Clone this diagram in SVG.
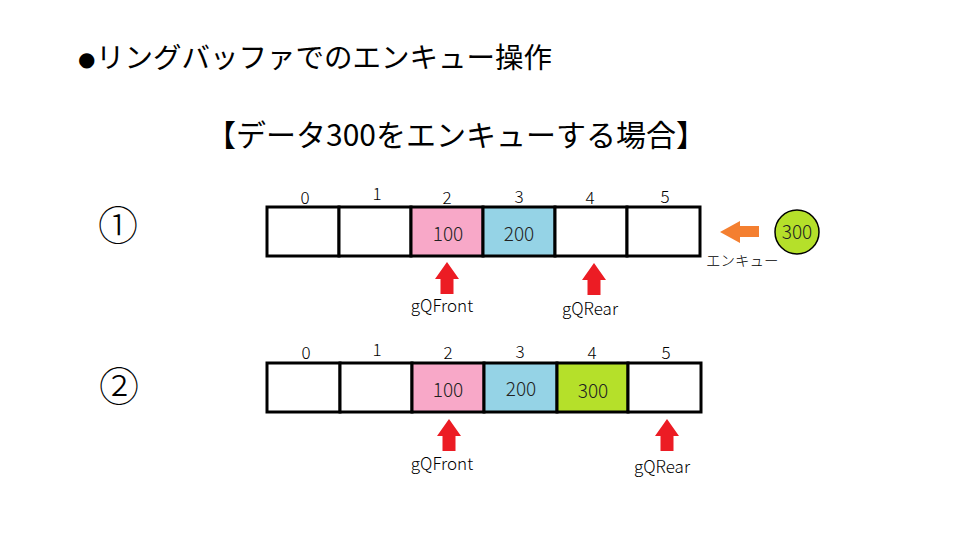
<svg xmlns="http://www.w3.org/2000/svg" width="960" height="540" viewBox="0 0 960 540">
<style>
text{font-family:"Noto Sans CJK JP","Noto Sans",sans-serif;fill:#000;}
.title{font-size:28.5px;}
.idx{font-size:17px;text-anchor:middle;font-weight:300;}
.val{font-size:19px;text-anchor:middle;fill:#222;font-weight:300;}
.lbl{font-size:17px;text-anchor:middle;font-weight:300;}
.cell{stroke:#000;stroke-width:3;}
.circ{font-size:40px;text-anchor:middle;font-weight:300;}
.up{fill:#ec1c24;}
</style>
<defs>
<polygon id="uparrow" points="0,0 12,17 6.5,17 6.5,32 -6.5,32 -6.5,17 -12,17" class="up"/>
</defs>
<rect width="960" height="540" fill="#fff"/>
<g id="titles">
<text x="78" y="66" style="font-size:20px;font-family:'DejaVu Sans',sans-serif;">●</text>
<text class="title" x="96" y="68">リングバッファでのエンキュー操作</text>
<text class="title" x="206" y="146" style="font-size:30px;">【データ300をエンキューする場合】</text>
</g>
<g id="step1">
<text class="circ" x="118" y="240">①</text>
<g id="row1-cells">
<rect class="cell" x="267" y="207" width="72" height="49" fill="#fff"/>
<rect class="cell" x="339" y="207" width="72" height="49" fill="#fff"/>
<rect class="cell" x="411" y="207" width="72" height="49" fill="#f8a8c8"/>
<rect class="cell" x="483" y="207" width="72" height="49" fill="#95d3e6"/>
<rect class="cell" x="555" y="207" width="72" height="49" fill="#fff"/>
<rect class="cell" x="627" y="207" width="73" height="49" fill="#fff"/>
</g>
<g id="row1-idx">
<text class="idx" x="305" y="204">0</text>
<text class="idx" x="377" y="200">1</text>
<text class="idx" x="447" y="204">2</text>
<text class="idx" x="519" y="203">3</text>
<text class="idx" x="590" y="204">4</text>
<text class="idx" x="665" y="203">5</text>
</g>
<text class="val" x="448" y="241">100</text>
<text class="val" x="519" y="241">200</text>
<g id="row1-front">
<use href="#uparrow" x="447" y="262"/>
<text class="lbl" x="442" y="312">gQFront</text>
</g>
<g id="row1-rear">
<use href="#uparrow" x="594" y="263"/>
<text class="lbl" x="590" y="315">gQRear</text>
</g>
<g id="newdata">
<circle cx="797" cy="232" r="22" fill="#b5e02a" stroke="#000" stroke-width="1.5"/>
<text class="val" x="797" y="239">300</text>
</g>
<text x="706" y="266" style="font-size:14.5px;font-weight:300;">エンキュー</text>
</g>
<g id="connectors">
<polygon points="720,232 740,221 740,226 759,226 759,237 740,237 740,243" fill="#f47f30"/>
</g>
<g id="step2">
<text class="circ" x="119" y="401">②</text>
<g id="row2-cells">
<rect class="cell" x="267" y="363" width="73" height="49" fill="#fff"/>
<rect class="cell" x="340" y="363" width="72" height="49" fill="#fff"/>
<rect class="cell" x="412" y="363" width="72" height="49" fill="#f8a8c8"/>
<rect class="cell" x="484" y="363" width="73" height="49" fill="#95d3e6"/>
<rect class="cell" x="557" y="363" width="71" height="49" fill="#b5e02a"/>
<rect class="cell" x="628" y="363" width="73" height="49" fill="#fff"/>
</g>
<g id="row2-idx">
<text class="idx" x="306" y="359">0</text>
<text class="idx" x="377" y="356">1</text>
<text class="idx" x="448" y="359">2</text>
<text class="idx" x="520" y="358">3</text>
<text class="idx" x="592" y="359">4</text>
<text class="idx" x="666" y="359">5</text>
</g>
<text class="val" x="448" y="397">100</text>
<text class="val" x="521" y="396">200</text>
<text class="val" x="593" y="398">300</text>
<g id="row2-front">
<use href="#uparrow" x="449" y="419"/>
<text class="lbl" x="442" y="470">gQFront</text>
</g>
<g id="row2-rear">
<use href="#uparrow" x="667" y="419"/>
<text class="lbl" x="662" y="473">gQRear</text>
</g>
</g>
</svg>
